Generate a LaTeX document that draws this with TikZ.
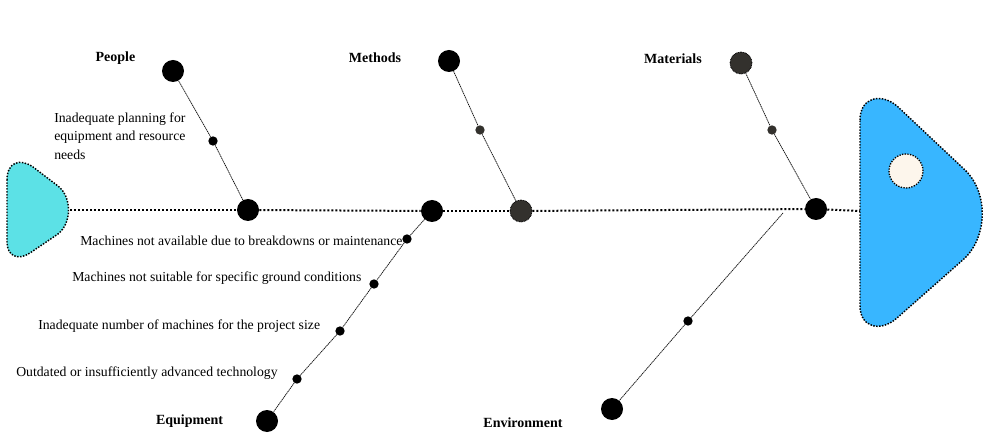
\documentclass[tikz,border=0pt]{standalone}
\usepackage{fontspec}
\setmainfont{Liberation Serif}
\definecolor{tailc}{HTML}{5CE1E6}
\definecolor{headc}{HTML}{38B6FF}
\definecolor{eyec}{HTML}{FDF6EC}
\definecolor{darkc}{HTML}{33312D}
\begin{document}
\begin{tikzpicture}[x=0.75pt,y=-0.75pt,
  bigdot/.style={circle, fill=black, minimum size=16.5pt, inner sep=0pt},
  smalldot/.style={circle, fill=black, minimum size=7pt, inner sep=0pt},
  darkbig/.style={circle, fill=darkc, draw=black, line width=0.6pt, dash pattern=on 0.6pt off 0.6pt, minimum size=16.5pt, inner sep=0pt},
  darksmall/.style={circle, fill=darkc, minimum size=7pt, inner sep=0pt},
  border/.style={draw=black, line width=1.1pt, dash pattern=on 1.1pt off 1.1pt},
  spine/.style={draw=black, line width=1.5pt, dash pattern=on 1.5pt off 1.5pt},
  bone/.style={draw=black, line width=0.45pt, dash pattern=on 0.75pt off 0.75pt,
    preaction={draw=gray!70, line width=0.6pt, solid}},
  cat/.style={font=\bfseries\fontsize{10.5}{12}\selectfont, inner sep=0pt},
  cause/.style={font=\fontsize{10.3}{14}\selectfont, inner sep=0pt, anchor=west, align=left}]
\useasboundingbox (0,0) rectangle (984,441);

% tail and head
\draw[border, fill=tailc] (7,180) .. controls (7,162) and (20,158) .. (33,167) -- (58,186)
  .. controls (72,197) and (72,223) .. (58,234) -- (30,253)
  .. controls (18,261) and (7,256) .. (7,242) -- cycle;
\draw[border, fill=headc] (860,120) .. controls (860,98) and (880,92) .. (897,106) -- (965,170)
  .. controls (988,192) and (988,235) .. (965,258) -- (897,318)
  .. controls (880,333) and (860,327) .. (860,306) -- cycle;
\node[circle, fill=eyec, draw=black, line width=1pt, dash pattern=on 1pt off 1pt, minimum size=25.5pt, inner sep=0pt] (eye) at (906,171) {};
\coordinate (tailTip) at (70,210);
\coordinate (headL) at (860,211);

% nodes
\node[bigdot] (pT) at (173,71) {};
\node[smalldot] (pS) at (213,141) {};
\node[bigdot] (pJ) at (248,210) {};
\node[bigdot] (mT) at (449,61) {};
\node[darksmall] (mS) at (480,130) {};
\node[darkbig] (mJ) at (521,211) {};
\node[darkbig] (aT) at (741,63) {};
\node[darksmall] (aS) at (772,130) {};
\node[bigdot] (aJ) at (816,209) {};
\node[bigdot] (eJ) at (432,211) {};
\node[smalldot] (e1) at (407,239) {};
\node[smalldot] (e2) at (374,284) {};
\node[smalldot] (e3) at (340,331) {};
\node[smalldot] (e4) at (297,379) {};
\node[bigdot] (eB) at (267,421) {};
\coordinate (vJ) at (783,213);
\node[smalldot] (v1) at (688,321) {};
\node[bigdot] (vB) at (612,409) {};

% spine
\draw[spine] (tailTip) -- (pJ);
\draw[spine] (pJ) -- (eJ);
\draw[spine] (eJ) -- (mJ);
\draw[spine] (mJ) -- (aJ);
\draw[spine] (aJ) -- (headL);

% bones
\draw[bone] (pT) -- (pS);
\draw[bone] (pS) -- (pJ);
\draw[bone] (mT) -- (mS);
\draw[bone] (mS) -- (mJ);
\draw[bone] (aT) -- (aS);
\draw[bone] (aS) -- (aJ);
\draw[bone] (eJ) -- (e1);
\draw[bone] (e1) -- (e2);
\draw[bone] (e2) -- (e3);
\draw[bone] (e3) -- (e4);
\draw[bone] (e4) -- (eB);
\draw[bone] (vJ) -- (v1);
\draw[bone] (v1) -- (vB);

% labels
\node[cat] (lP) at (115.5,58) {People};
\node[cat] (lM) at (375,58) {Methods};
\node[cat] (lA) at (673,59) {Materials};
\node[cat] (lE) at (189.5,421) {Equipment};
\node[cat] (lV) at (523,423) {Environment};

\node[cause] (c1) at (54,136) {Inadequate planning for\\equipment and resource\\needs};
\node[cause] (c2) at (80,241) {Machines not available due to breakdowns or maintenance};
\node[cause] (c3) at (72,278) {Machines not suitable for specific ground conditions};
\node[cause] (c4) at (38,326) {Inadequate number of machines for the project size};
\node[cause] (c5) at (16,373) {Outdated or insufficiently advanced technology};
\end{tikzpicture}
\end{document}
